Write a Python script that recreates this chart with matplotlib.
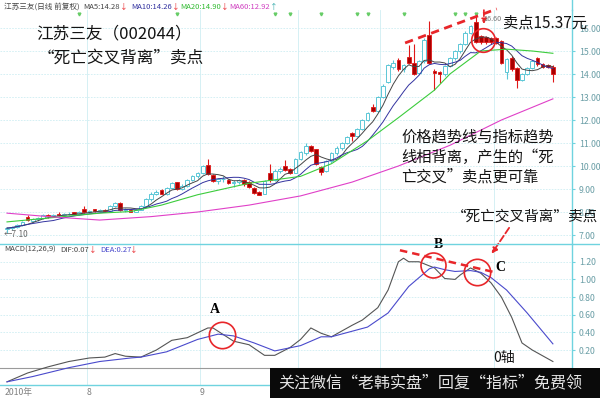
import matplotlib

matplotlib.use("Agg")
import matplotlib.pyplot as plt  # noqa: E402
import numpy as np
import pandas as pd
from matplotlib.lines import Line2D
from matplotlib.patches import Rectangle

plt.rcParams["font.family"] = ["Noto Sans CJK SC", "DejaVu Sans"]

# ---- daily candles, 江苏三友 2010-07 .. 2010-12 ----
OPEN = [7.25, 7.30, 7.35, 7.45, 7.80, 7.62, 7.70, 7.75, 7.88, 7.82,
        7.92, 7.86, 7.90, 7.98, 7.92, 8.15, 7.98, 8.12, 8.05, 8.08,
        8.04, 8.25, 8.38, 8.10, 8.08, 8.02, 8.10, 8.28, 8.55, 8.80,
        8.95, 8.80, 9.05, 9.30, 9.00, 9.15, 9.40, 9.55, 9.70, 10.05,
        9.62, 9.35, 9.42, 9.40, 9.25, 9.32, 9.38, 9.30, 9.05, 8.85,
        8.80, 9.70, 9.40, 9.78, 9.98, 9.85, 9.70, 10.30, 10.55, 10.85,
        10.72, 9.95, 9.78, 10.20, 10.55, 10.80, 11.00, 11.42, 11.30, 11.60,
        12.00, 12.55, 12.40, 13.00, 13.65, 14.30, 14.60, 14.20, 14.75, 14.50,
        14.05, 14.55, 15.70, 14.12, 14.08, 14.00, 14.35, 14.70, 15.00, 15.30,
        15.80, 16.25, 15.65, 15.60, 15.58, 15.55, 15.45, 14.10, 14.70, 14.25,
        13.75, 14.00, 14.25, 14.70, 14.42, 14.40, 14.30]
HIGH = [7.35, 7.40, 7.50, 7.60, 7.85, 7.75, 7.80, 7.90, 7.92, 7.92,
        7.98, 7.95, 7.98, 8.02, 8.05, 8.25, 8.10, 8.15, 8.12, 8.12,
        8.30, 8.42, 8.42, 8.18, 8.12, 8.15, 8.32, 8.60, 8.85, 8.95,
        8.98, 9.10, 9.30, 9.32, 9.20, 9.45, 9.60, 9.75, 10.05, 10.30,
        9.65, 9.50, 9.55, 9.45, 9.38, 9.45, 9.42, 9.35, 9.10, 8.90,
        9.40, 10.10, 9.85, 9.95, 10.26, 9.90, 10.35, 10.65, 11.00, 10.90,
        10.75, 10.00, 10.25, 10.60, 10.85, 11.05, 11.30, 11.50, 11.65, 12.05,
        12.35, 12.70, 13.05, 13.55, 14.45, 14.60, 14.70, 14.45, 15.25, 15.30,
        14.60, 15.55, 16.30, 14.20, 14.15, 14.40, 14.75, 15.05, 15.35, 15.85,
        16.15, 16.60, 15.70, 15.65, 15.62, 15.60, 15.50, 14.70, 14.80, 14.30,
        14.05, 14.30, 14.60, 14.75, 14.50, 14.45, 14.40]
LOW = [7.10, 7.20, 7.30, 7.40, 7.60, 7.55, 7.62, 7.70, 7.75, 7.78,
       7.82, 7.80, 7.85, 7.88, 7.88, 7.95, 7.95, 8.00, 8.00, 8.02,
       8.02, 8.20, 8.05, 8.00, 7.98, 7.98, 8.08, 8.25, 8.50, 8.72,
       8.78, 8.75, 9.00, 8.95, 8.95, 9.10, 9.35, 9.50, 9.65, 9.60,
       9.30, 9.20, 9.30, 9.20, 9.10, 9.20, 9.15, 9.05, 8.80, 8.72,
       8.78, 9.30, 9.35, 9.70, 9.80, 9.65, 9.68, 10.25, 10.50, 10.60,
       10.05, 9.60, 9.75, 10.15, 10.50, 10.70, 10.95, 11.10, 11.25, 11.55,
       11.95, 12.35, 12.35, 12.95, 13.60, 14.20, 14.15, 14.10, 14.45, 13.95,
       14.00, 14.50, 14.45, 13.30, 13.60, 13.90, 14.30, 14.60, 14.90, 15.25,
       15.75, 15.35, 15.30, 15.30, 15.30, 15.30, 14.45, 13.80, 14.15, 13.40,
       13.70, 13.95, 14.20, 14.35, 14.25, 14.25, 13.65]
CLOSE = [7.30, 7.35, 7.45, 7.55, 7.65, 7.70, 7.75, 7.85, 7.82, 7.88,
         7.86, 7.90, 7.93, 7.92, 8.00, 7.98, 8.06, 8.05, 8.08, 8.04,
         8.25, 8.38, 8.10, 8.12, 8.02, 8.10, 8.28, 8.55, 8.80, 8.88,
         8.80, 9.05, 9.25, 9.00, 9.15, 9.40, 9.55, 9.70, 10.00, 9.65,
         9.35, 9.42, 9.45, 9.25, 9.32, 9.38, 9.20, 9.10, 8.82, 8.76,
         9.35, 9.38, 9.78, 9.88, 9.82, 9.70, 10.30, 10.60, 10.85, 10.65,
         10.10, 9.75, 10.20, 10.55, 10.80, 11.00, 11.25, 11.30, 11.60, 12.00,
         12.30, 12.40, 13.00, 13.50, 14.40, 14.50, 14.20, 14.40, 14.50, 14.00,
         14.55, 15.50, 14.50, 14.05, 14.00, 14.35, 14.70, 15.00, 15.30, 15.80,
         16.10, 15.40, 15.38, 15.37, 15.40, 15.35, 14.50, 14.65, 14.20, 13.72,
         14.00, 14.25, 14.55, 14.42, 14.30, 14.32, 14.00]

# month boundaries; only the labels left of the banner are visible
MONTH_START = [0, 16, 38, 57, 73, 95]
MONTH_LABELS = ["2010年", "8", "9"]

MA20_IDX = [0, 10, 18, 24, 30, 37, 47, 57, 63, 70, 76, 83, 86, 89, 92, 97, 102, 106]
MA20_VAL = [7.57, 7.78, 7.95, 8.02, 8.30, 8.75, 9.25, 9.55, 10.10, 11.10,
            12.10, 13.30, 14.00, 14.50, 15.00, 15.08, 15.00, 14.90]
MA60_IDX = [0, 8, 18, 28, 37, 47, 57, 67, 76, 86, 96, 106]
MA60_VAL = [7.95, 7.80, 7.65, 7.80, 8.00, 8.30, 8.70, 9.30, 10.00, 10.90, 12.00, 12.92]

DIF_IDX = [0, 4, 8, 12, 16, 19, 21, 23, 26, 29, 32, 35, 39, 40, 44, 47, 50, 52,
           55, 57, 59, 61, 63, 67, 69, 72, 74, 76, 77, 78, 80, 83, 85, 87, 88,
           90, 92, 94, 96, 98, 100, 102, 106]
DIF_VAL = [-0.16, -0.06, 0.01, 0.07, 0.11, 0.12, 0.16, 0.13, 0.12, 0.20, 0.31,
           0.34, 0.45, 0.45, 0.30, 0.26, 0.14, 0.14, 0.23, 0.32, 0.45, 0.39,
           0.35, 0.48, 0.54, 0.68, 0.88, 1.20, 1.24, 1.20, 1.20, 1.13, 1.01,
           1.00, 1.05, 1.13, 1.07, 0.96, 0.80, 0.57, 0.28, 0.20, 0.07]
DEA_IDX = [0, 5, 12, 18, 24, 26, 31, 37, 41, 44, 48, 52, 57, 61, 63, 70, 74, 78,
           82, 83, 85, 87, 90, 92, 94, 97, 101, 106]
DEA_VAL = [-0.16, -0.10, 0.00, 0.07, 0.11, 0.12, 0.18, 0.32, 0.38, 0.36, 0.28,
           0.19, 0.25, 0.35, 0.35, 0.46, 0.62, 0.92, 1.12, 1.14, 1.11, 1.09,
           1.10, 1.08, 1.02, 0.88, 0.62, 0.27]

EVENT_IDX = [14, 33, 52, 55, 61, 68, 70, 77, 87, 89, 91]

W, H = 600, 398
CYAN = "#6fd3df"
GRID = "#cfeef3"
UP = "#5cc7d6"
DOWN_FACE = "#a80000"
DOWN_EDGE = "#e01818"
RED = "#e8262a"


def fx(x):
    return x / W


def fy(y):
    return 1 - y / H


fig = plt.figure(figsize=(6, 3.98), dpi=100)
fig.patch.set_facecolor("white")
ax = fig.add_axes([0, fy(244), fx(572), (244 - 10) / H])
axm = fig.add_axes([0, fy(385), fx(572), (385 - 244) / H])

idx = np.arange(len(CLOSE))
o, h, l, c = (np.array(a) for a in (OPEN, HIGH, LOW, CLOSE))
up = c >= o
bottom = np.minimum(o, c)
height = np.maximum(np.abs(c - o), 0.03)

ax.vlines(idx[up], l[up], h[up], color=UP, lw=0.8, zorder=2)
ax.vlines(idx[~up], l[~up], h[~up], color=DOWN_EDGE, lw=0.8, zorder=2)
ax.bar(idx[up], height[up], bottom=bottom[up], width=0.72,
       facecolor="white", edgecolor=UP, lw=0.7, zorder=3)
ax.bar(idx[~up], height[~up], bottom=bottom[~up], width=0.72,
       facecolor=DOWN_FACE, edgecolor=DOWN_EDGE, lw=0.6, zorder=3)

close = pd.Series(CLOSE)
ax.plot(idx, close.rolling(5, min_periods=1).mean(), color="#454545", lw=0.7, zorder=4)
ax.plot(idx, close.rolling(10, min_periods=1).mean(), color="#3333a0", lw=0.7, zorder=4)
ax.plot(MA20_IDX, MA20_VAL, color="#3ccc3c", lw=0.8, zorder=4)
ax.plot(MA60_IDX, MA60_VAL, color="#e040c8", lw=0.8, zorder=4)
ax.plot(EVENT_IDX, [0.985] * len(EVENT_IDX), "v", ms=2, color="#66cc66",
        transform=ax.get_xaxis_transform(), clip_on=False)

ax.set_xlim(-7 / 5.15, 565 / 5.15)
ax.set_ylim(6.609, 16.783)
ax.set_yticks(range(7, 17))
ax.set_yticklabels([f"{v:.2f}" for v in range(7, 17)])
ax.set_xticks([])

axm.plot(DIF_IDX, DIF_VAL, color="#555555", lw=0.8, zorder=4)
axm.plot(DEA_IDX, DEA_VAL, color="#4a4acc", lw=0.8, zorder=4)
axm.axhline(0, color="#9a9a9a", lw=0.8, zorder=1)
axm.set_xlim(ax.get_xlim())
axm.set_ylim(-0.196, 1.401)
axm.set_yticks([0.2, 0.4, 0.6, 0.8, 1.0, 1.2])
axm.set_yticklabels([f"{v:.2f}" for v in [0.2, 0.4, 0.6, 0.8, 1.0, 1.2]])
axm.set_xticks([m - 0.5 for m in MONTH_START[:len(MONTH_LABELS)]])
axm.set_xticklabels(MONTH_LABELS, ha="left")

for a in (ax, axm):
    a.set_facecolor("white")
    for s in ("top", "left", "bottom"):
        a.spines[s].set_visible(False)
    a.spines["right"].set_color(CYAN)
    a.spines["right"].set_linewidth(1.0)
    a.yaxis.tick_right()
    a.tick_params(axis="y", length=2, color=CYAN, labelsize=6.3,
                  labelcolor="#6a9ea6", pad=3)
    a.grid(axis="y", color=GRID, lw=0.6, ls=(0, (2, 1.5)), zorder=0)
    for m in MONTH_START[1:]:
        a.axvline(m - 0.5, color=GRID, lw=0.6, zorder=0)
axm.tick_params(axis="x", length=0, labelsize=6.3, labelcolor="#808080", pad=2)

# frame lines
fig.add_artist(Line2D([0, 1], [fy(244), fy(244)], color=CYAN, lw=1.0))
fig.add_artist(Line2D([0, 1], [fy(385), fy(385)], color=CYAN, lw=1.0))
fig.add_artist(Line2D([fx(572), fx(572)], [fy(0), fy(10)], color=CYAN, lw=1.0))

# price panel annotations
ax.plot(92.5, 15.5, "o", ms=17, mfc="none", mec=RED, mew=1.2, zorder=6)
ax.plot([77.3, 95.1], [15.35, 16.83], color=RED, lw=2, ls=(0, (3, 2)),
        clip_on=False, zorder=6)
ax.annotate("", xy=(92.6, 16.05), xytext=(92.6, 16.9), annotation_clip=False,
            arrowprops=dict(arrowstyle="-|>", color=RED, lw=1.2, ls="--",
                            mutation_scale=7))
ax.text(96.0, 16.38, "16.60", fontsize=5.2, color="#777777", va="center", ha="right")
ax.text(-0.6, 7.04, "←7.10", fontsize=6, color="#666666", va="center")

# MACD panel annotations
for xi, yi, ms, lab, lx, ly in [(41.7, 0.37, 19, "A", 40.4, 0.66),
                                (82.7, 1.16, 18, "B", 83.7, 1.39),
                                (91.3, 1.08, 19, "C", 95.8, 1.13)]:
    axm.plot(xi, yi, "o", ms=ms, mfc="none", mec=RED, mew=1.2, zorder=6)
    axm.text(lx, ly, lab, family="Liberation Serif", weight="bold",
             fontsize=10, ha="center", va="center", clip_on=False)
axm.plot([76.3, 94.8], [1.33, 1.08], color=RED, lw=1.8, ls=(0, (3, 2)), zorder=6)
axm.annotate("", xy=(93.8, 1.265), xytext=(97.8, 1.61), annotation_clip=False,
             arrowprops=dict(arrowstyle="-|>", color=RED, lw=1.3, ls="--",
                             mutation_scale=8))

# headers
hy = fy(7)
fig.text(fx(4), hy, "江苏三友(日线 前复权)", fontsize=5.5, color="#444444", va="center")
for x0, label, col, arrow, acol in [(83, "MA5:14.28", "#444444", "↓", RED),
                                    (131, "MA10:14.26", "#3333a0", "↓", RED),
                                    (180, "MA20:14.90", "#33bb33", "↓", RED),
                                    (229, "MA60:12.92", "#d040c0", "↑", "#33aaaa")]:
    fig.text(fx(x0), hy, label, fontsize=5.5, color=col, va="center")
    fig.text(fx(x0 + 37 + (4 if "MA5:" not in label else 0)), hy, arrow,
             fontsize=5.5, color=acol, va="center")

my = fy(250)
fig.text(fx(4), my, "MACD(12,26,9)", fontsize=5.5, color="#444444", va="center")
fig.text(fx(60), my, "DIF:0.07", fontsize=5.5, color="#444444", va="center")
fig.text(fx(89), my, "↓", fontsize=5.5, color=RED, va="center")
fig.text(fx(100), my, "DEA:0.27", fontsize=5.5, color="#4a4acc", va="center")
fig.text(fx(130), my, "↓", fontsize=5.5, color=RED, va="center")

# explanatory text
TXT = "#141414"
fig.text(fx(36), fy(34), "江苏三友（002044）", fontsize=12, color=TXT, va="center")
fig.text(fx(38), fy(58), "“死亡交叉背离”卖点", fontsize=12, color=TXT, va="center")
fig.text(fx(503), fy(23), "卖点15.37元", fontsize=11, color=TXT, va="center")
for yy, line in [(137, "价格趋势线与指标趋势"),
                 (157, "线相背离，产生的“死"),
                 (177, "亡交叉”卖点更可靠")]:
    fig.text(fx(401), fy(yy), line, fontsize=11, color=TXT, va="center")
fig.text(fx(598), fy(217), "“死亡交叉背离”卖点", fontsize=10.5, color=TXT,
         va="center", ha="right")
fig.text(fx(493), fy(358), "0轴", fontsize=10, color=TXT, va="center")

# bottom banner
fig.add_artist(Rectangle((fx(270), 0), fx(330), 30 / H, transform=fig.transFigure,
                         facecolor="#0a0a0a", edgecolor="none", zorder=10))
fig.text(fx(278), fy(383), "关注微信“老韩实盘”回复“指标”免费领", fontsize=11.5,
         color="#e6e6e6", va="center", zorder=11)

fig.savefig("out.png", dpi=100)
